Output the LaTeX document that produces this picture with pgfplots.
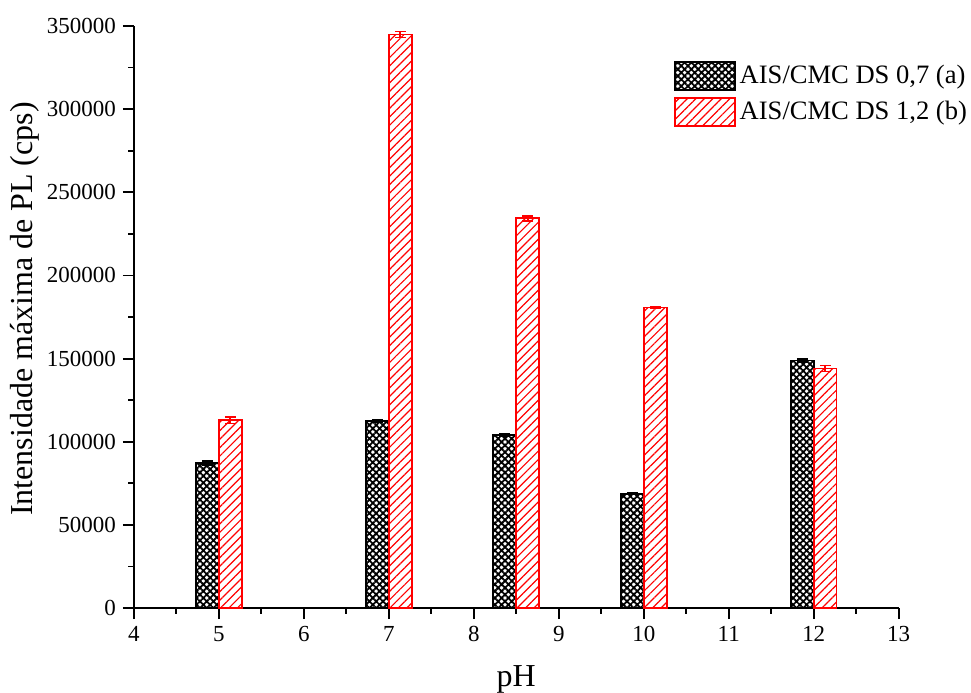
\documentclass[border=0pt]{standalone}
\usepackage{fontspec}
\setmainfont{Liberation Serif}
\usepackage{pgfplots}
\pgfplotsset{compat=1.18}
\usetikzlibrary{patterns.meta}

\pgfplotsset{
  patchleg/.style={legend image code/.code={%
    \draw[##1,bar shift=0pt] (0pt,-7pt) rectangle (30pt,7pt);}},
}

\begin{document}
\begin{tikzpicture}
\begin{axis}[
  scale only axis,
  width=383pt, height=291.5pt,
  xmin=4, xmax=13, ymin=0, ymax=350000,
  axis lines*=left,
  axis line style={line width=0.9pt},
  every tick/.style={black, line width=0.9pt},
  tick align=outside,
  major tick length=5.5pt, minor tick length=2.8pt,
  xtick={4,5,...,13}, minor x tick num=1,
  ytick={0,50000,...,350000}, minor y tick num=1,
  scaled y ticks=false,
  yticklabel style={/pgf/number format/fixed, /pgf/number format/1000 sep={}},
  /pgf/number format/assume math mode=true,
  tick label style={font=\fontsize{11.5}{13}\selectfont},
  xlabel={pH},
  ylabel={Intensidade máxima de PL (cps)},
  every axis x label/.style={at={([yshift=-39pt]axis description cs:0.5,0)},
    anchor=base, inner sep=0pt, font=\fontsize{16}{19}\selectfont},
  every axis y label/.style={at={([xshift=-54.5pt,yshift=4pt]axis description cs:0,0.5)},
    anchor=center, rotate=90, inner sep=0pt, font=\fontsize{16}{19}\selectfont},
  ybar, bar width=0.27,
  legend style={at={(1.095,0.94)}, anchor=north east, draw=none, fill=none,
    inner sep=0pt, row sep=3pt, font=\fontsize{13.3}{15}\selectfont},
  legend cell align=left,
  clip=false,
]
\coordinate (O) at (rel axis cs:0,0);

\addplot[patchleg, bar shift=-0.135, draw=black, line width=0.9pt,
  pattern={Hatch[angle=45,distance=2.4pt,line width=0.9pt]}, pattern color=black,
  error bars/.cd, y dir=both, y explicit,
  error bar style={black, line width=0.8pt},
  error mark options={rotate=90, black, line width=0.8pt, mark size=2.7pt}]
  coordinates {
  (5,87400)   +- (0,1200)
  (7,112700)  +- (0,800)
  (8.5,104200) +- (0,600)
  (10,68800)  +- (0,600)
  (12,148900) +- (0,900)
};
\addlegendentry{AIS/CMC DS 0,7 (a)}

\addplot[patchleg, bar shift=0.135, draw=red, line width=0.8pt,
  pattern={Lines[angle=45,distance=3pt,line width=0.6pt]}, pattern color=red,
  error bars/.cd, y dir=both, y explicit,
  error bar style={red, line width=0.8pt},
  error mark options={rotate=90, red, line width=0.8pt, mark size=2.7pt}]
  coordinates {
  (5,113000)  +- (0,2000)
  (7,344800)  +- (0,1800)
  (8.5,234400) +- (0,1500)
  (10,180700) +- (0,600)
  (12,144100) +- (0,1800)
};
\addlegendentry{AIS/CMC DS 1,2 (b)}
\end{axis}
\path (O) ++(-67pt,-42pt) rectangle ++(485.5pt,346.5pt);
\end{tikzpicture}
\end{document}
